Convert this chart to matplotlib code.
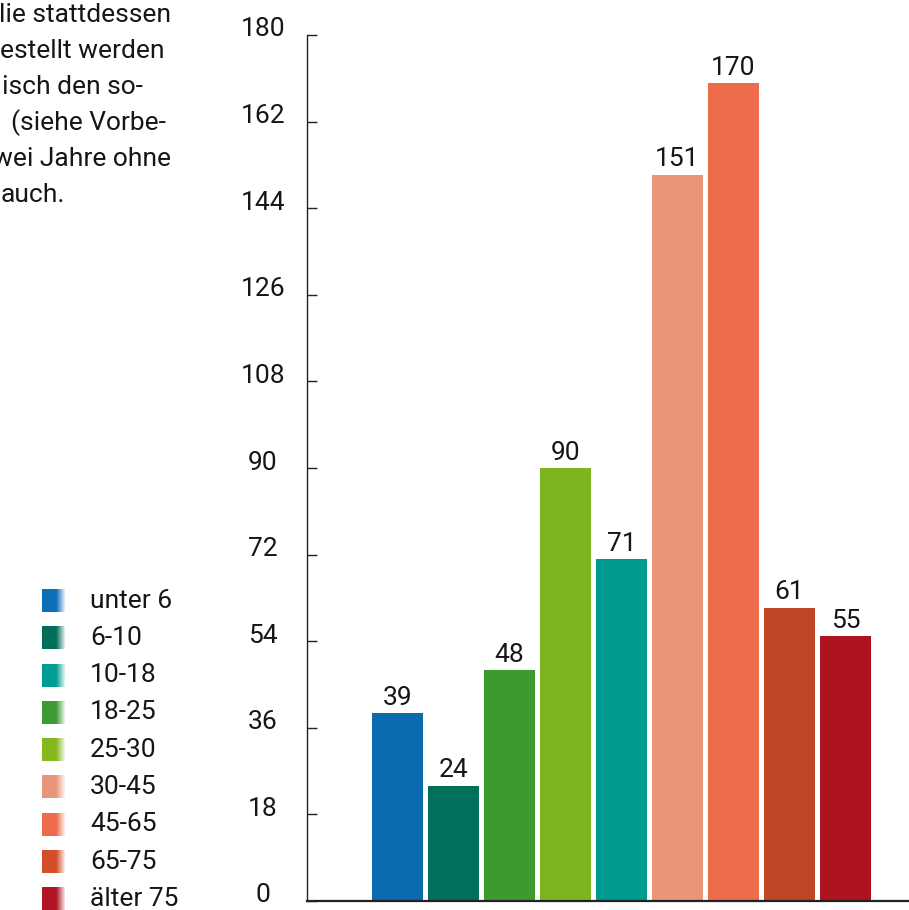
import numpy as np
import matplotlib
matplotlib.use("Agg")
import matplotlib.pyplot as plt
from matplotlib.colors import to_rgb
from matplotlib.transforms import ScaledTranslation

# ---- data ----
bar_values = [39, 24, 48, 90, 71, 151, 170, 61, 55]
bar_colors = ["#0a6aad", "#00705a", "#3d9a2e", "#7db41f", "#009b90",
              "#e89677", "#ec6c4c", "#bd4725", "#ad1420"]
legend_labels = ["unter 6", "6-10", "10-18", "18-25", "25-30",
                 "30-45", "45-65", "65-75", "älter 75"]
legend_colors = ["#0d6fb8", "#006e5a", "#009c92", "#3d9b35", "#86b81c",
                 "#e9957a", "#ee6a4c", "#d34e28", "#b01424"]
y_ticks = [0, 18, 36, 54, 72, 90, 108, 126, 144, 162, 180]
side_text = [("lie stattdessen", -1), ("estellt werden", 0), ("isch den so-", 2),
             ("(siehe Vorbe-", 11), ("wei Jahre ohne", -7), ("auch.", 1)]

plt.rcParams['font.family'] = ['Roboto', 'DejaVu Sans']
TXT = "#161616"
FS = 19
FW = "normal"

W, H = 909, 910
fig = plt.figure(figsize=(W / 100, H / 100), dpi=100)

# ---- overlay axes in pixel coords for legend + side text ----
ov = fig.add_axes([0, 0, 1, 1])
ov.set_xlim(0, W)
ov.set_ylim(H, 0)
ov.axis("off")

for i, (t, x0) in enumerate(side_text):
    ov.text(x0, 22 + 36 * i, t, fontsize=FS, color=TXT, ha="left",
            va="baseline", fontweight=FW)

for i, (lab, col) in enumerate(zip(legend_labels, legend_colors)):
    cy = 600.5 + 37.3 * i
    c = np.array(to_rgb(col))
    n = 100
    s = np.linspace(0, 1, n)
    t = np.clip((s - 0.62) / 0.38, 0, 1) * 0.9
    grad = c[None, :] * (1 - t[:, None]) + np.ones(3)[None, :] * t[:, None]
    ov.imshow(grad[None, :, :], extent=(42, 65, cy + 11.5, cy - 11.5),
              aspect="auto", interpolation="bilinear")
    ov.text(90, cy, lab, fontsize=FS, color=TXT, ha="left", va="center",
            fontweight=FW)
ov.set_xlim(0, W)
ov.set_ylim(H, 0)

# ---- main bar axes ----
ax = fig.add_axes([307 / W, 9 / H, 602 / W, 866 / H])
x = np.arange(len(bar_values))
ax.bar(x, bar_values, width=51 / 56, color=bar_colors)
ax.set_xlim(-1.616, 9.134)
ax.set_ylim(0, 180)
for xi, v in zip(x, bar_values):
    ax.annotate(str(v), (xi, v), xytext=(0, 5.8), textcoords="offset points",
                ha="center", va="baseline", fontsize=FS, color=TXT,
                fontweight=FW)

ax.spines["top"].set_visible(False)
ax.spines["right"].set_visible(False)
ax.spines["left"].set_linewidth(1.0)
ax.spines["left"].set_color("#222222")
ax.spines["bottom"].set_linewidth(1.6)
ax.spines["bottom"].set_color("#222222")
ax.set_xticks([])
ax.set_yticks(y_ticks)
ax.set_yticklabels([str(v) for v in y_ticks], fontweight=FW)
ax.tick_params(axis="y", direction="in", length=7, width=1, color="#222222",
               labelsize=FS, labelcolor=TXT, pad=31.7)
off = ScaledTranslation(0, 0.08, fig.dpi_scale_trans)
for lbl in ax.get_yticklabels():
    lbl.set_horizontalalignment("center")
    lbl.set_transform(lbl.get_transform() + off)

fig.savefig("out.png", dpi=100)
